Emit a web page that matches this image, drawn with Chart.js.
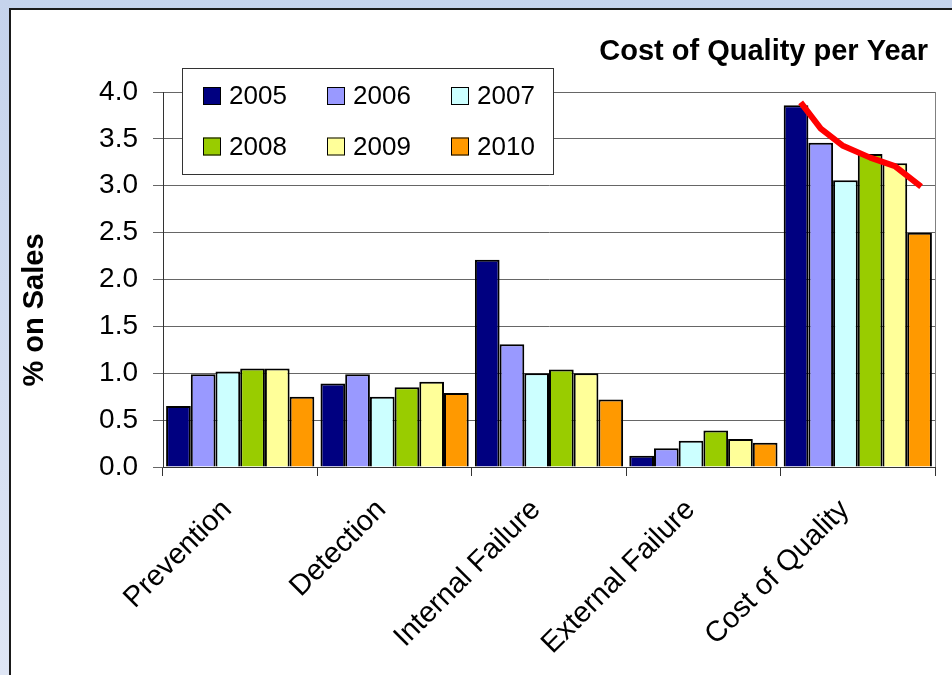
<!DOCTYPE html>
<html>
<head>
<meta charset="utf-8">
<script src="https://cdn.jsdelivr.net/npm/chart.js@4/dist/chart.umd.min.js"></script>
<style>
  html, body { margin: 0; padding: 0; }
  body {
    width: 952px; height: 675px; overflow: hidden;
    background: linear-gradient(#c5d3ec, #dfe6f5);
  }
  #frame {
    position: absolute; left: 9px; top: 8px;
    width: 943px; height: 667px; box-sizing: border-box;
    border-left: 2px solid #1a1a1a; border-top: 2px solid #1a1a1a;
    background: #fff;
  }
  #chart { display: block; }
</style>
</head>
<body>
<div id="frame"><canvas id="chart" width="941" height="665"></canvas></div>
<script>
const categories = ['Prevention', 'Detection', 'Internal Failure', 'External Failure', 'Cost of Quality'];
const years = ['2005', '2006', '2007', '2008', '2009', '2010'];
const colors = ['#000080', '#9999ff', '#ccffff', '#99cc00', '#ffff99', '#ff9900'];

const v2005 = [0.65, 0.89, 2.21, 0.12, 3.86];
const v2006 = [0.99, 0.99, 1.31, 0.20, 3.46];
const v2007 = [1.02, 0.75, 1.00, 0.28, 3.06];
const v2008 = [1.05, 0.85, 1.04, 0.39, 3.34];
const v2009 = [1.05, 0.91, 1.00, 0.30, 3.24];
const v2010 = [0.75, 0.79, 0.72, 0.26, 2.50];

// hand drawn red trend over the "Cost of Quality" group (x in category index units)
const trendX = [3.63, 3.76, 3.90, 4.08, 4.24, 4.41];
const trendY = [3.89, 3.61, 3.43, 3.30, 3.21, 2.99];

const FONT = "'Liberation Sans', Arial, sans-serif";
const series = [v2005, v2006, v2007, v2008, v2009, v2010];

const datasets = series.map((vals, i) => ({
    label: years[i],
    data: vals,
    backgroundColor: colors[i],
    borderColor: '#000',
    borderWidth: 2,
    categoryPercentage: 0.96,
    barPercentage: 1.0
}));

// title, y title, legend box, plot border and the red trend stroke
const decorPlugin = {
    id: 'decor',
    beforeDatasetsDraw(chart) {
        const { ctx, chartArea } = chart;
        ctx.save();
        ctx.strokeStyle = '#808080';
        ctx.lineWidth = 1;
        ctx.beginPath();
        ctx.moveTo(chartArea.right + 0.5, chartArea.top);
        ctx.lineTo(chartArea.right + 0.5, chartArea.bottom);
        ctx.stroke();
        ctx.restore();
    },
    afterDatasetsDraw(chart) {
        const ctx = chart.ctx;
        const xs = chart.scales.x, ys = chart.scales.y;
        ctx.save();
        ctx.strokeStyle = '#ff0000';
        ctx.lineWidth = 6;
        ctx.lineJoin = 'round';
        ctx.beginPath();
        trendX.forEach((v, i) => {
            const px = xs.getPixelForValue(v);
            const py = ys.getPixelForValue(trendY[i]);
            if (i === 0) ctx.moveTo(px, py); else ctx.lineTo(px, py);
        });
        ctx.stroke();
        ctx.restore();
    },
    afterDraw(chart) {
        const ctx = chart.ctx;
        ctx.save();
        ctx.fillStyle = '#000';
        ctx.font = 'bold 29px ' + FONT;
        ctx.textAlign = 'right';
        ctx.textBaseline = 'alphabetic';
        ctx.fillText('Cost of Quality per Year', 917, 50);

        ctx.translate(24, 300);
        ctx.rotate(-Math.PI / 2);
        ctx.textAlign = 'center';
        ctx.textBaseline = 'middle';
        ctx.fillText('% on Sales', 0, 0);
        ctx.restore();

        // legend
        const box = { x: 171, y: 58, w: 371, h: 106 };
        ctx.save();
        ctx.fillStyle = '#fff';
        ctx.fillRect(box.x, box.y, box.w, box.h);
        ctx.strokeStyle = '#333';
        ctx.lineWidth = 1;
        ctx.strokeRect(box.x + 0.5, box.y + 0.5, box.w, box.h);
        ctx.font = '26px ' + FONT;
        ctx.textBaseline = 'middle';
        ctx.textAlign = 'left';
        years.forEach((yr, i) => {
            const col = i % 3, row = Math.floor(i / 3);
            const sx = box.x + 21 + col * 124;
            const sy = box.y + 19 + row * 50.5;
            ctx.fillStyle = colors[i];
            ctx.fillRect(sx, sy, 18, 18);
            ctx.strokeStyle = '#000';
            ctx.strokeRect(sx + 0.5, sy + 0.5, 17, 17);
            ctx.fillStyle = '#000';
            ctx.fillText(yr, sx + 26, sy + 10);
        });
        ctx.restore();
    }
};

const config = {
    type: 'bar',
    data: {
        labels: categories,
        datasets: datasets
    },
    options: {
        responsive: false,
        animation: false,
        layout: { padding: { left: 0, right: 17, top: 82, bottom: 0 } },
        plugins: {
            legend: { display: false },
            tooltip: { enabled: false },
            title: { display: false }
        },
        scales: {
            x: {
                grid: { display: true, drawOnChartArea: false, drawTicks: true, tickLength: 9, color: '#333', offset: true },
                border: { color: '#333', width: 1 },
                ticks: {
                    color: '#000',
                    font: { family: FONT, size: 29 },
                    minRotation: 45,
                    maxRotation: 45,
                    autoSkip: false,
                    padding: 17,
                    labelOffset: -13
                },
                afterFit(scale) { scale.height = 208; }
            },
            y: {
                min: 0,
                max: 4,
                grid: { color: '#666', tickLength: 10, lineWidth: 1 },
                border: { color: '#333', width: 1 },
                ticks: {
                    stepSize: 0.5,
                    color: '#000',
                    font: { family: FONT, size: 28 },
                    padding: 15,
                    callback: v => v.toFixed(1)
                },
                afterFit(scale) { scale.width = 152; }
            }
        }
    },
    plugins: [decorPlugin]
};

new Chart(document.getElementById('chart'), config);
</script>
</body>
</html>
